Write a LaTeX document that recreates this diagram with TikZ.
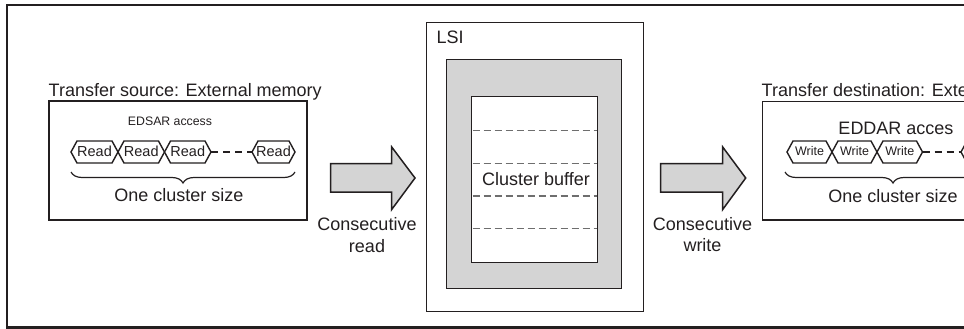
\documentclass[tikz,border=0pt]{standalone}
\usepackage{fontspec}
\setmainfont{Liberation Sans}
\usetikzlibrary{decorations.pathreplacing}
\definecolor{ink}{HTML}{231F20}
\definecolor{fillgray}{HTML}{D4D4D4}
\definecolor{dashgray}{HTML}{6E6E6E}
\newcommand\myhex[5]{%
  \draw[hexline] (#1,152) -- (#1+6,141) -- (#2-6,141) -- (#2,152) -- (#2-6,163) -- (#1+6,163) -- cycle;
  \node[#5] (#4) at ({(#1+#2)/2},151.5) {#3};}
\begin{document}
\begin{tikzpicture}[x=1pt,y=-1pt,
  every node/.style={inner sep=0pt,text=ink},
  bigtext/.style={font=\fontsize{18}{22}\selectfont},
  readtext/.style={font=\fontsize{14.5}{16}\selectfont},
  writetext/.style={font=\fontsize{12.5}{14}\selectfont},
  smalltext/.style={font=\fontsize{12.3}{14}\selectfont},
  boxline/.style={draw=ink,line width=1.5pt},
  hexline/.style={draw=ink,line width=1.4pt,fill=white},
  dashline/.style={draw=ink,line width=1.2pt,dash pattern=on 7pt off 5pt},
  bufdash/.style={draw=dashgray,line width=1.2pt,dash pattern=on 7pt off 4pt},
  bracestyle/.style={draw=ink,line width=1.2pt,decorate,decoration={brace,amplitude=11pt,mirror}},
  blockarrow/.style={draw=ink,line width=1.5pt,fill=fillgray,line join=miter},
  outerline/.style={draw=ink,line width=2.2pt}]
\useasboundingbox (0,0) rectangle (964,329);
\clip (0,0) rectangle (964,329);
% outer frame (open to the right)
\draw[outerline] (1000,5.2) -- (6.8,5.2) -- (6.8,327.5) -- (1000,327.5);

% ---- source ----
\node[bigtext,anchor=base west] (srctitle) at (48.5,96.7) {Transfer source: External memory};
\draw[boxline] (49,101) rectangle (307,220);
\node[smalltext,anchor=base] (edsar) at (170,125.7) {EDSAR access};
\myhex{71}{118}{Read}{r1}{readtext}
\myhex{118}{164.5}{Read}{r2}{readtext}
\myhex{164.5}{211}{Read}{r3}{readtext}
\draw[dashline] (211,152) -- (252,152);
\myhex{252}{295}{Read}{r4}{readtext}
\draw[bracestyle] (71,172) -- (295,172);
\node[bigtext,anchor=base] (srcsize) at (179,201.7) {One cluster size};

% ---- arrow 1 ----
\draw[blockarrow] (330.7,163.5) -- (391.7,163.5) -- (391.7,147) -- (415,178) -- (391.7,209.5) -- (391.7,192) -- (330.7,192) -- cycle;
\node[bigtext,anchor=base] (cread1) at (367,230) {Consecutive};
\node[bigtext,anchor=base] (cread2) at (367,252.5) {read};

% ---- LSI ----
\draw[draw=ink,line width=1.4pt,fill=white] (426.7,22.7) rectangle (643.3,311.7);
\node[bigtext,anchor=base west] (lsi) at (436.5,43.3) {LSI};
\draw[draw=ink,line width=1.4pt,fill=fillgray] (446.7,59.3) rectangle (621.7,288.3);
\draw[draw=ink,line width=1.5pt,fill=white] (471.7,96.7) rectangle (597.7,262.3);
\foreach \yy in {130.7,163.3,196,228.3}
  \draw[bufdash] (472.5,\yy) -- (597,\yy);
\node[bigtext,anchor=base,fill=white,inner xsep=1pt] (buf) at (536,185) {Cluster buffer};

% ---- arrow 2 ----
\draw[blockarrow] (660.7,163.5) -- (722.7,163.5) -- (722.7,147) -- (745.7,178) -- (722.7,209.5) -- (722.7,192) -- (660.7,192) -- cycle;
\node[bigtext,anchor=base] (cwrite1) at (702.5,230) {Consecutive};
\node[bigtext,anchor=base] (cwrite2) at (702.5,251.7) {write};

% ---- destination ----
\node[bigtext,anchor=base west] (dsttitle) at (761.5,96.7) {Transfer destination: External memory};
\draw[boxline] (762.5,101.5) rectangle (1020,220);
\node[bigtext,anchor=base] (eddar) at (896,134) {EDDAR acces};
\myhex{787}{832}{Write}{w1}{writetext}
\myhex{832}{877}{Write}{w2}{writetext}
\myhex{877}{922.5}{Write}{w3}{writetext}
\draw[dashline] (922.5,152) -- (961,152);
\draw[hexline] (1010,141) -- (967,141) -- (961,152) -- (967,163) -- (1010,163);
\draw[bracestyle] (785,172) -- (1001,172);
\node[bigtext,anchor=base] (dstsize) at (893,202.5) {One cluster size};
\end{tikzpicture}
\end{document}
